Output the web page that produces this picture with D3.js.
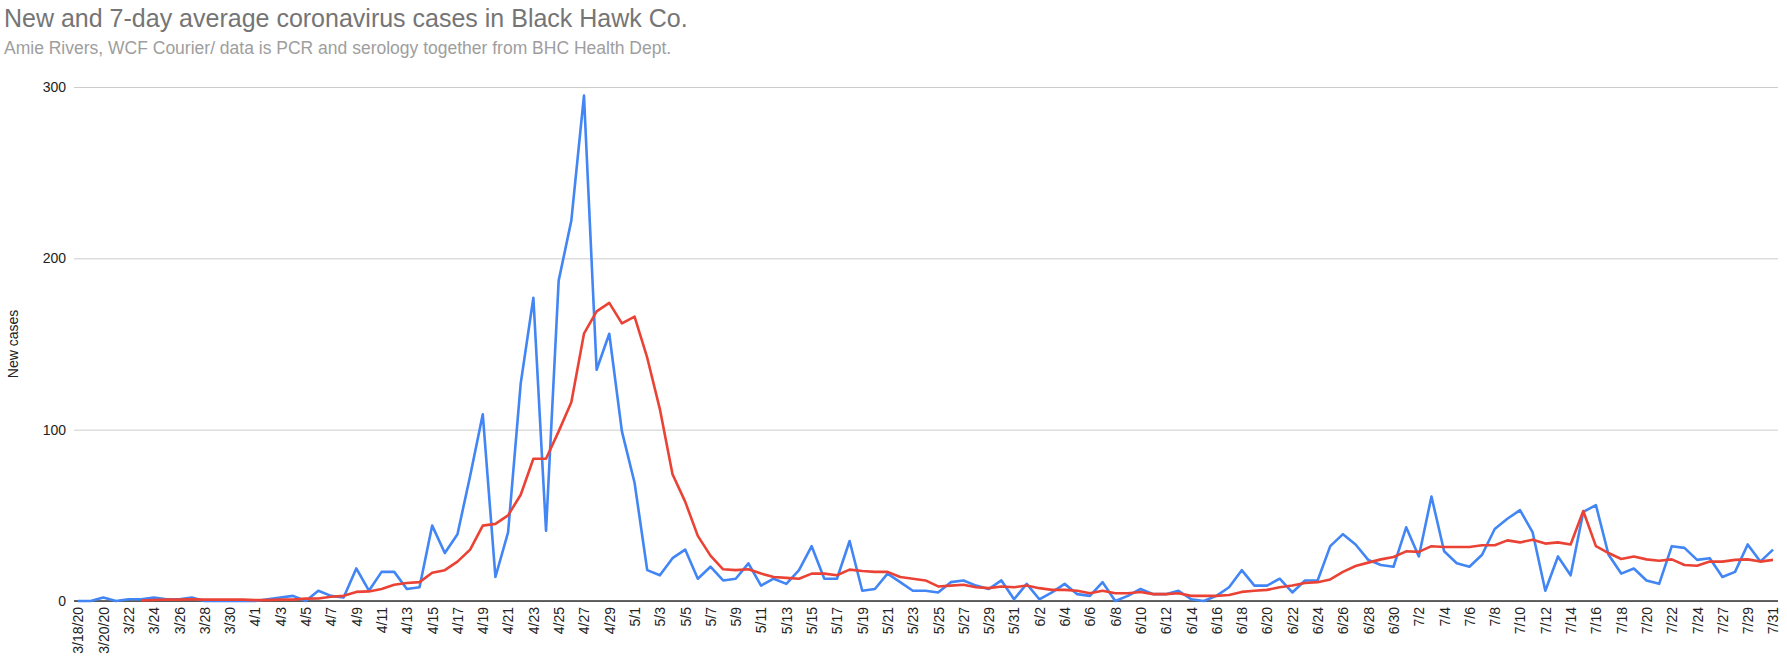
<!DOCTYPE html>
<html><head><meta charset="utf-8">
<script src="https://cdn.jsdelivr.net/npm/d3@7"></script>
<style>body{margin:0;background:#fff}svg{display:block}text{font-family:"Liberation Sans",Arial,sans-serif}</style>
</head><body><svg id="c" width="1787" height="668"></svg>
<script>
const title = "New and 7-day average coronavirus cases in Black Hawk Co.";
const subtitle = "Amie Rivers, WCF Courier/ data is PCR and serology together from BHC Health Dept.";
const yLabel = "New cases";
const yTicks = [0, 100, 200, 300];
// dates (7/26 absent from the source data)
const dates = (function(){const out=[];const md=[[3,18,31],[4,1,30],[5,1,31],[6,1,30],[7,1,31]];
  for(const [m,s,e] of md) for(let d=s;d<=e;d++){ if(m===7&&d===26) continue; out.push(m+"/"+d);} return out;})();
const dateLabels = dates.map((d,i)=> i===0?"3/18/20": i===2?"3/20/20": d);
const newCases = [0,0,2,0,1,1,2,1,1,2,0,0,0,0,0,1,2,3,0,6,3,2,19,6,17,17,7,8,44,28,39,
 73,109,14,40,127,177,41,187,222,295,135,156,99,69,18,15,25,30,13,20,12,13,22,9,13,10,18,32,13,13,35,6,7,16,11,6,6,5,11,12,
 9,7,12,1,10,1,5,10,4,3,11,0,3,7,4,4,6,1,0,3,8,18,9,9,13,5,12,12,32,39,33,24,21,20,43,26,61,29,22,20,27,42,48,53,40,6,26,15,
 52,56,27,16,19,12,10,32,31,24,25,14,17,33,23,30];
const avg7 = [null,null,null,null,null,0.3,0.6,0.8,0.8,1,0.8,0.8,0.8,0.8,0.5,0.5,0.8,0.8,1.4,1.5,2.5,3,5.3,5.6,7,9.5,10.5,11,16.5,18,23,
 30,44,45,50,62,83,83,99,116,156,169,174,162,166,142,112,74,58,38,26.5,18.5,18,18.5,16,14,13.5,13,16,16,15,18.3,17.5,17,17,14,13,12,8.5,9,9.5,
 8,7.5,8.5,8,9,7.5,6.5,6.5,6,4.5,6,4.5,4.5,5.3,4,4,4.5,3,3,3,3.5,5.3,6,6.5,8,9,10.5,11,12.6,17,20.4,22.4,24.3,25.7,29,28.7,32,31.5,31.5,31.5,32.5,32.5,35.4,34.2,35.8,33.5,34.2,33,
 52.5,32,28,24.5,26,24.3,23.5,24.3,21,20.6,23,23,24,24.3,23,24];

const svg = d3.select("#c");
const x = d3.scaleLinear().domain([0, dates.length-1]).range([78, 1773]);
const y = d3.scaleLinear().domain([0, 300]).range([601, 87]);

svg.append("text").attr("x",4).attr("y",27).attr("font-size",25).attr("fill","#757575").text(title);
svg.append("text").attr("x",4).attr("y",54).attr("font-size",17.5).attr("fill","#9e9e9e").text(subtitle);

const ya = svg.append("g").attr("transform","translate(74,0)")
  .call(d3.axisLeft(y).tickValues(yTicks).tickSize(-1704).tickPadding(8).tickFormat(d3.format("d")));
ya.select(".domain").remove();
ya.selectAll("line").attr("stroke","#cccccc");
ya.selectAll("text").attr("font-size",14).attr("fill","#222");
svg.append("line").attr("x1",74).attr("x2",1778).attr("y1",y(0)).attr("y2",y(0)).attr("stroke","#333").attr("stroke-width",1.5);

svg.append("text").attr("transform","translate(18,344) rotate(-90)").attr("text-anchor","middle")
  .attr("font-size",14).attr("fill","#222").text(yLabel);

const xa = svg.append("g").attr("transform","translate(0,601)")
  .call(d3.axisBottom(x).tickValues(d3.range(0,dates.length,2)).tickSize(0).tickFormat(i=>dateLabels[i]));
xa.select(".domain").remove();
xa.selectAll("text").attr("font-size",14).attr("fill","#222")
  .attr("transform","rotate(-90)").attr("text-anchor","end").attr("dx","-6").attr("dy","0.35em").attr("y",0).attr("x",0);

const line = d3.line().defined(d=>d!=null).x((d,i)=>x(i)).y(d=>y(d));
svg.append("path").datum(newCases).attr("d",line).attr("fill","none").attr("stroke","#4285F4").attr("stroke-width",2.6).attr("stroke-linejoin","round");
svg.append("path").datum(avg7).attr("d",line).attr("fill","none").attr("stroke","#EA4335").attr("stroke-width",2.6).attr("stroke-linejoin","round");
</script></body></html>
